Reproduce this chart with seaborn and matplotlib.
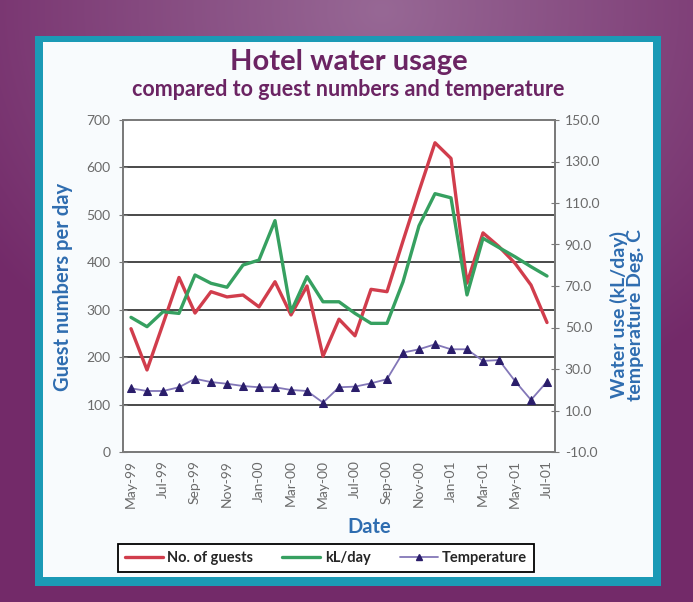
import numpy as np
import pandas as pd
import matplotlib
matplotlib.use('Agg')
import matplotlib.pyplot as plt
from matplotlib.patches import Rectangle
from matplotlib.lines import Line2D
from matplotlib.colors import to_rgb
import seaborn as sns

# monthly data, May-99 to Jul-01
months = ['May-99', 'Jun-99', 'Jul-99', 'Aug-99', 'Sep-99', 'Oct-99', 'Nov-99', 'Dec-99',
          'Jan-00', 'Feb-00', 'Mar-00', 'Apr-00', 'May-00', 'Jun-00', 'Jul-00', 'Aug-00',
          'Sep-00', 'Oct-00', 'Nov-00', 'Dec-00', 'Jan-01', 'Feb-01', 'Mar-01', 'Apr-01',
          'May-01', 'Jun-01', 'Jul-01']
guests = [260, 173, 270, 368, 293, 338, 327, 331, 306, 359, 289, 350, 202, 280,
          245, 343, 338, 445, 550, 652, 619, 356, 462, 433, 398, 352, 273]
kl_day = [54.9, 50.4, 57.6, 56.8, 75.3, 71.3, 69.4, 80.1, 82.5, 101.5, 57.6, 74.5,
          62.4, 62.4, 56.8, 52.0, 52.0, 72.0, 99.0, 114.5, 112.5, 65.7, 93.0, 88.5,
          84.1, 79.3, 74.8]
temperature = [20.7, 19.4, 19.4, 21.2, 25.3, 23.7, 22.9, 21.8, 21.2, 21.2, 19.9, 19.4,
               13.8, 21.2, 21.5, 23.1, 25.1, 37.9, 39.5, 41.9, 39.5, 39.5, 33.9, 34.3,
               24.2, 15.1, 23.9]
left_ticks = [0, 100, 200, 300, 400, 500, 600, 700]
right_ticks = [-10, 10, 30, 50, 70, 90, 110, 130, 150]

df = pd.DataFrame({'idx': np.arange(len(months)), 'month': months, 'guests': guests,
                   'kl': kl_day, 'temp': temperature})

sns.set_style('white')
plt.rcParams['font.family'] = ['Lato', 'DejaVu Sans']

W, H = 693, 602
fig = plt.figure(figsize=(W / 100, H / 100), dpi=100)

# purple gradient frame
bg = fig.add_axes([0, 0, 1, 1], zorder=-10)
bg.axis('off')
yy, xx = np.mgrid[0:H, 0:W]
d = np.sqrt(((xx - W * 0.55) / W) ** 2 + ((yy - 10) / H) ** 2)
t = np.clip(d / 0.7, 0, 1)[..., None]
c_light = np.array(to_rgb('#976895'))
c_dark = np.array(to_rgb('#732a69'))
bg.imshow(c_light * (1 - t) + c_dark * t, extent=[0, W, H, 0], aspect='auto')
bg.set_xlim(0, W)
bg.set_ylim(H, 0)
bg.add_patch(Rectangle((35, 36), 626, 550, facecolor='#1b9ab6', edgecolor='none'))
bg.add_patch(Rectangle((43, 42), 610, 535, facecolor='#f8fbfd', edgecolor='none'))

purple = '#6b2463'
blue = '#2f6db0'
tick_grey = '#6a6a6a'

fig.text(0.503, 0.897, 'Hotel water usage', ha='center', va='center',
         fontsize=21, fontweight='bold', color=purple)
fig.text(0.503, 0.851, 'compared to guest numbers and temperature', ha='center',
         va='center', fontsize=15.5, fontweight='bold', color=purple)

ax = fig.add_axes([123 / W, 1 - 452 / H, 432 / W, 332 / H])
ax.set_facecolor('white')
ax2 = ax.twinx()

sns.lineplot(data=df, x='idx', y='guests', ax=ax, color='#d13d4c', linewidth=2.4,
             label='No. of guests', legend=False)
sns.lineplot(data=df, x='idx', y='kl', ax=ax2, color='#36a060', linewidth=2.4,
             label='kL/day', legend=False)
sns.lineplot(data=df, x='idx', y='temp', ax=ax2, color='#8377b8', linewidth=1.3,
             marker='^', markersize=6, markerfacecolor='#2a1d6a',
             markeredgecolor='#2a1d6a', label='Temperature', legend=False)

ax.set_xlim(-0.5, len(months) - 0.5)
ax.set_ylim(0, 700)
ax2.set_ylim(-10, 150)
ax.set_yticks(left_ticks)
ax.set_yticklabels([str(v) for v in left_ticks])
ax2.set_yticks(right_ticks)
ax2.set_yticklabels([f'{v:.1f}' for v in right_ticks])
ax.set_xticks(np.arange(0, len(months), 2))
ax.set_xticklabels(months[::2], rotation=90)
ax.set_xticks(np.arange(-0.5, len(months) - 1, 2), minor=True)
ax.grid(False)
ax2.grid(False)
for v in left_ticks[1:-1]:
    ax.axhline(v, color='#4a4a4a', linewidth=1.4, zorder=0.5)

for a in (ax, ax2):
    for s in a.spines.values():
        s.set_color('#7a7a7a')
        s.set_linewidth(1.3)
ax.tick_params(axis='x', which='major', length=0, labelsize=10, labelcolor=tick_grey, pad=6)
ax.tick_params(axis='x', which='minor', length=5, direction='inout', color='#7a7a7a')
ax.tick_params(axis='y', length=6, direction='inout', color='#7a7a7a', labelsize=10,
               labelcolor=tick_grey, pad=6)
ax2.tick_params(axis='y', length=6, direction='inout', color='#7a7a7a', labelsize=10,
                labelcolor=tick_grey, pad=4)

ax.set_xlabel('')
ax.set_ylabel('')
ax2.set_ylabel('')
fig.text(63 / W, 1 - 287 / H, 'Guest numbers per day', rotation=90, ha='center',
         va='center', fontsize=14.5, fontweight='bold', color=blue)
fig.text(627 / W, 1 - 315 / H, 'Water use (kL/day)\ntemperature Deg. C', rotation=90,
         ha='center', va='center', fontsize=14, fontweight='bold', color=blue,
         linespacing=0.95)
fig.text(369 / W, 1 - 527 / H, 'Date', ha='center', va='center', fontsize=14.5,
         fontweight='bold', color=blue)

handles = [Line2D([], [], color='#d13d4c', linewidth=2.4),
           Line2D([], [], color='#36a060', linewidth=2.4),
           Line2D([], [], color='#8377b8', linewidth=1.3, marker='^', markersize=5,
                  markerfacecolor='#2a1d6a', markeredgecolor='#2a1d6a')]
leg = fig.legend(handles, ['No. of guests', 'kL/day', 'Temperature'], ncol=3,
                 loc='center', bbox_to_anchor=(326 / W, 1 - 558 / H), frameon=True,
                 fancybox=False, edgecolor='black', framealpha=1, facecolor='white',
                 prop={'weight': 'bold', 'size': 10.5}, handlelength=2.6,
                 handletextpad=0.3, columnspacing=2.0, borderpad=0.45)
leg.get_frame().set_linewidth(1.3)

fig.savefig('out.png', dpi=100)
